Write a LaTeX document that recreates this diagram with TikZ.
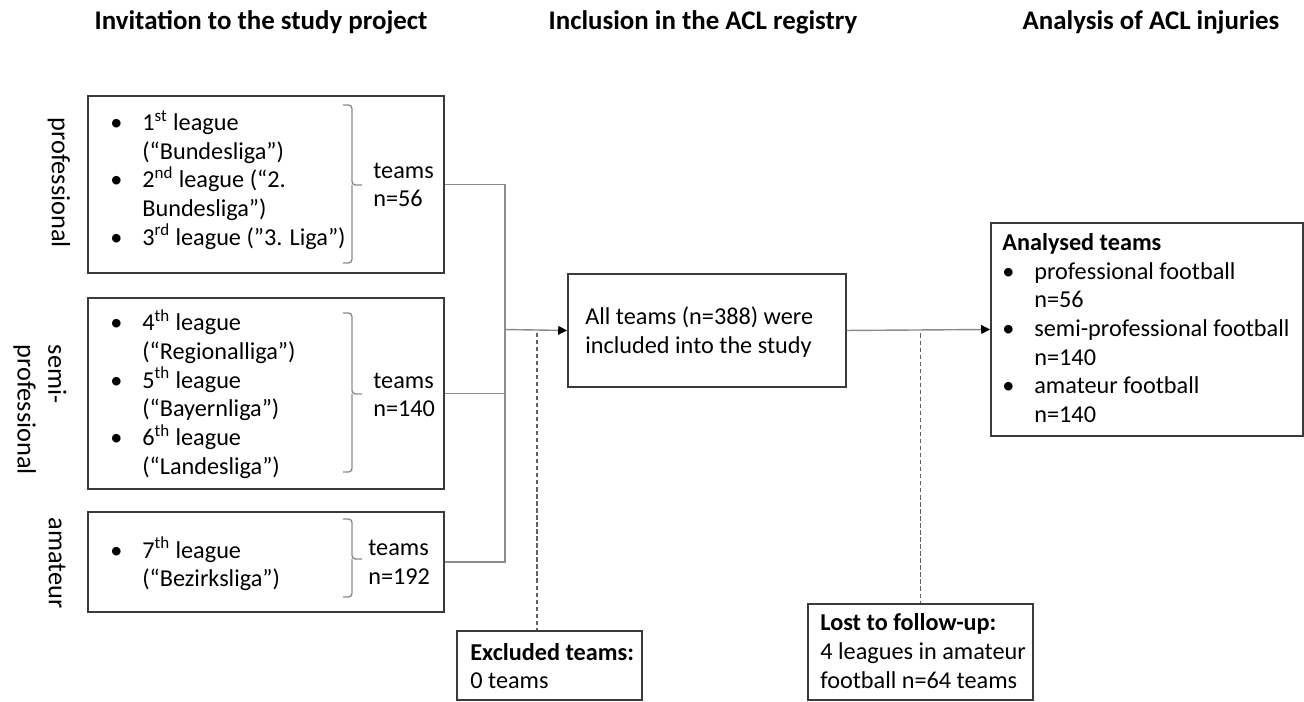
\documentclass[tikz,border=0pt]{standalone}
\usepackage{fontspec}
\setmainfont{Carlito}
\usepackage{tikz}
\usetikzlibrary{arrows.meta}
\definecolor{boxgray}{HTML}{3A3A3A}
\definecolor{linegray}{HTML}{8C8C8C}
\newlength{\px}
\setlength{\px}{0.02cm}
\tikzset{
  stbox/.style={draw=boxgray, line width=1.1pt, rectangle, inner sep=0pt},
  sttext/.style={anchor=west, align=left, inner sep=0pt, font=\fontsize{13.8}{16.3}\selectfont},
  stside/.style={inner sep=0pt, rotate=-90, anchor=center, align=left, font=\fontsize{15}{17.5}\selectfont},
  sthead/.style={inner sep=0pt, font=\fontsize{15.3}{18}\selectfont\bfseries},
  stlink/.style={draw=linegray, line width=0.8pt},
  stdash/.style={draw=boxgray!80, line width=0.8pt, dash pattern=on 2.5pt off 1.5pt},
  starrow/.style={stlink, -{Triangle[length=5pt,width=5pt,color=black]}},
}
\newcommand{\stbox}[5] {\node [stbox, anchor=north west, minimum width=#4\px, minimum height=#5\px] (#1) at (#2,#3) {};}
\newcommand{\stbrace}[5] {\draw [stlink, rounded corners=2pt] (#2,#3) -- ++(9,0) -- (#2+9,#4) -- ++(10,0); \draw [stlink, rounded corners=2pt] (#2+9,#4) -- (#2+9,#5) -- (#2,#5); \coordinate (#1) at (#2+19,#4);}
\newcommand{\itm}[1] {\makebox[32\px][l]{\textbullet}#1}
\newcommand{\cnt}[1] {\hspace*{32\px}#1}

\begin{document}
\begin{tikzpicture}[x=0.02cm, y=-0.02cm]
\useasboundingbox (0,0) rectangle (1304,701);

% column headings
\node [sthead] (hinv) at (261,22) {Invitation to the study project};
\node [sthead] (hinc) at (703,22) {Inclusion in the ACL registry};
\node [sthead] (hana) at (1151,22) {Analysis of ACL injuries};

% league groups
\stbox {pro} {87} {95} {356} {177};
\stbox {semi} {87} {297} {356} {191};
\stbox {ama} {87} {511} {356} {100};

\node [stside] (lpro) at (59,183) {professional};
\node [stside] (lsemi) at (40,410) {semi-\\professional};
\node [stside] (lama) at (57,563) {amateur};

\node [sttext] (tpro) at (110,180) {\itm{1\textsuperscript{st} league}\\ \cnt{(“Bundesliga”)}\\ \itm{2\textsuperscript{nd} league (“2.}\\ \cnt{Bundesliga”)}\\ \itm{3\textsuperscript{rd} league (”3. Liga”)}};
\node [sttext] (tsemi) at (110,394) {\itm{4\textsuperscript{th} league}\\ \cnt{(“Regionalliga”)}\\ \itm{5\textsuperscript{th} league}\\ \cnt{(“Bayernliga”)}\\ \itm{6\textsuperscript{th} league}\\ \cnt{(“Landesliga”)}};
\node [sttext] (tama) at (110,564) {\itm{7\textsuperscript{th} league}\\ \cnt{(“Bezirksliga”)}};

\stbrace {bpro} {343} {105} {185} {263};
\stbrace {bsemi} {343} {313} {394} {472};
\stbrace {bama} {343} {519} {559} {597};

\node [sttext] (npro) at (373,185) {teams\\n=56};
\node [sttext] (nsemi) at (373,395) {teams\\n=140};
\node [sttext] (nama) at (368,562) {teams\\n=192};

% registry and analysis
\stbox {all} {567} {273} {278} {113};
\node [sttext] (tall) at (585,332) {All teams (n=388) were\\included into the study};
\stbox {res} {990} {222} {312} {213};
\node [sttext] (tres) at (1002,328) {\textbf{Analysed teams}\\ \itm{professional football}\\ \cnt{n=56}\\ \itm{semi-professional football}\\ \cnt{n=140}\\ \itm{amateur football}\\ \cnt{n=140}};
\stbox {excl} {456} {630} {185} {69};
\node [sttext] (texcl) at (470,666) {\textbf{Excluded teams:}\\0 teams};
\stbox {lost} {807} {603} {225} {96};
\node [sttext] (tlost) at (820,651) {\textbf{Lost to follow-up:}\\4 leagues in amateur\\football n=64 teams};

% connectors
\coordinate (merge) at (505,329.5);
\coordinate (drop) at (537,329.5);
\draw [stlink] (pro.east) -| (merge);
\draw [stlink] (semi.east) -| (merge);
\draw [stlink] (ama.east) -| (merge);
\draw [starrow] (merge) -- (all.west);
\draw [starrow] (all.east) -- (res.west);
\draw [stdash] (drop) ++(0,3) -- (drop |- excl.north);
\draw [stdash] (lost.north |- all.east) ++(0,3) -- (lost.north);
\end{tikzpicture}
\end{document}
